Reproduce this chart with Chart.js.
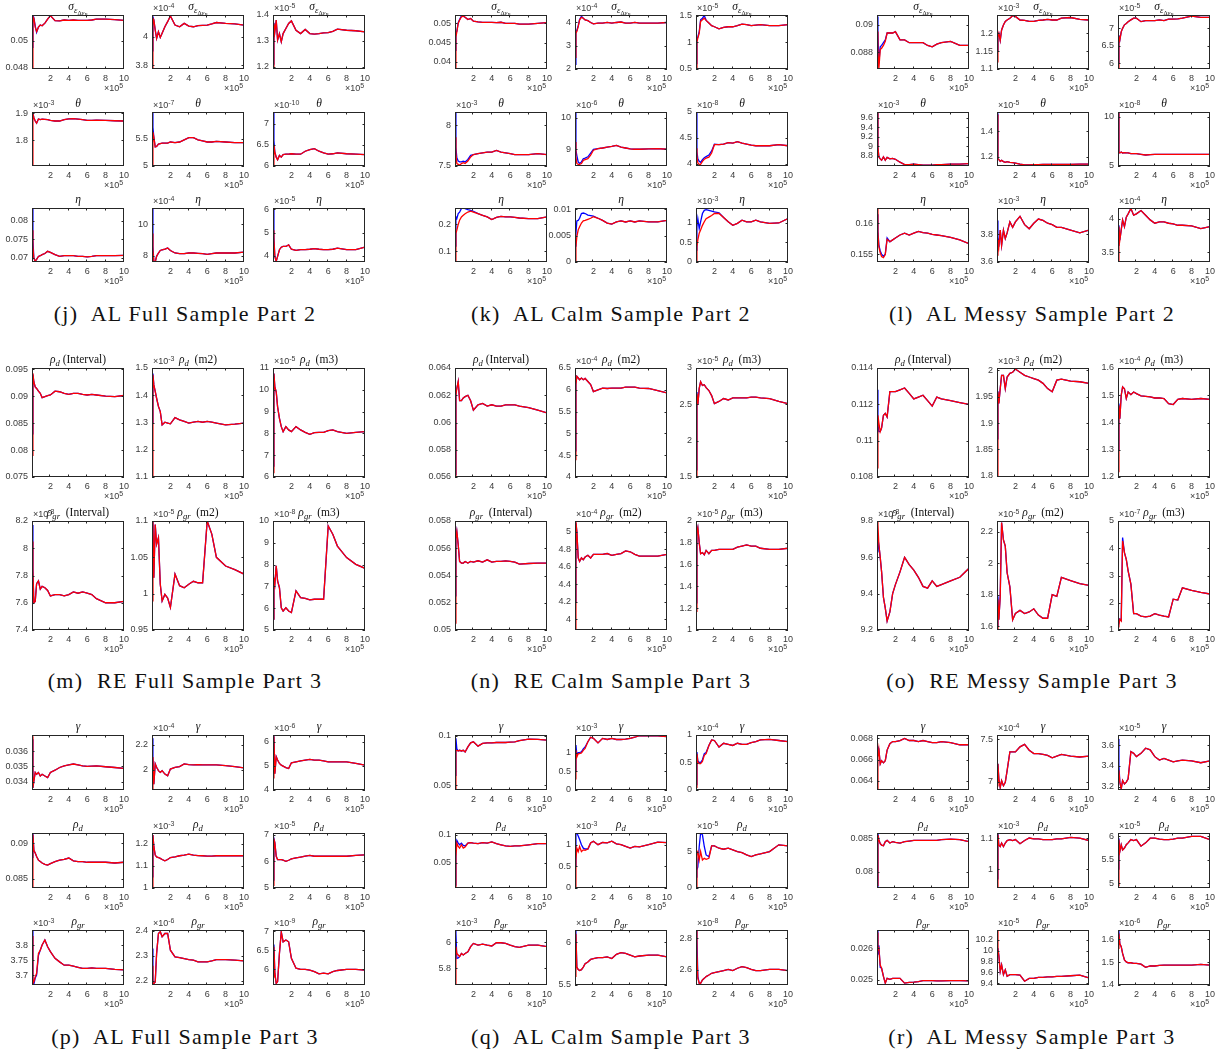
<!DOCTYPE html>
<html>
<head>
<meta charset="utf-8">
<script src="https://cdn.jsdelivr.net/npm/chart.js@4.4.0/dist/chart.umd.min.js"></script>
<style>
body{margin:0;background:#fff;width:1225px;height:1055px;position:relative;overflow:hidden}
canvas{position:absolute}
.ttl{position:absolute;width:140px;text-align:center;font-family:"Liberation Serif",serif;font-size:11.5px;line-height:12px;color:#111;white-space:nowrap}
.ttl sub{font-size:75%;vertical-align:-0.3em;line-height:0}
.ex{position:absolute;font-family:"Liberation Sans",Arial,sans-serif;font-size:9px;line-height:10px;color:#3a3a3a;white-space:nowrap}
.ex sup{font-size:7px;vertical-align:0.45em;line-height:0}
.cap{position:absolute;width:500px;text-align:center;font-family:"Liberation Serif",serif;font-size:22px;line-height:24px;letter-spacing:1.3px;color:#111;white-space:pre}
</style>
</head>
<body>
<script>
// iteration axis, in units of 10^5
var iterX = [0.01,0.1,0.2,0.35,0.5,0.7,0.9,1.1,1.4,1.7,2,2.5,3,3.5,4,4.5,5,5.5,6,6.5,7,8,9,10];
var xTicks = [2,4,6,8,10];

// (j) AL Full Sample Part 2
var jExp = [null,-4,-5,-3,-7,-10,null,-4,-5];
var jRange = [[0.0479,0.0519],[3.772,4.153],[1.191,1.4],[1.706,1.904],[5,5.99],[6,7.28],[0.0689,0.0835],[7.6,11.02],[3.73,6.06]];
var jTicks = [[0.048,0.05],[3.8,4],[1.2,1.3,1.4],[1.8,1.9],[5,5.5],[6,6.5,7],[0.07,0.075,0.08],[8,10],[4,5,6]];
var jRed = [
 [0.048,0.05178,0.05165,0.051,0.05067,0.051,0.05116,0.0511,0.0513,0.0516,0.05185,0.05148,0.05146,0.05153,0.0515,0.05153,0.0515,0.0515,0.0515,0.05153,0.0516,0.0516,0.05156,0.0515],
 [3.78,4.13,4.118,4.047,3.988,4.035,3.995,4.024,4.07,4.106,4.146,4.082,4.07,4.094,4.075,4.07,4.078,4.08,4.082,4.09,4.1,4.094,4.09,4.082],
 [1.195,1.367,1.335,1.38,1.303,1.328,1.296,1.328,1.348,1.367,1.377,1.341,1.328,1.344,1.328,1.326,1.328,1.331,1.332,1.337,1.345,1.341,1.339,1.335],
 [1.71,1.898,1.883,1.871,1.863,1.878,1.876,1.878,1.877,1.876,1.873,1.871,1.871,1.876,1.879,1.88,1.878,1.876,1.873,1.873,1.874,1.873,1.872,1.871],
 [5.02,5.62,5.53,5.35,5.36,5.4,5.41,5.42,5.42,5.42,5.44,5.43,5.44,5.48,5.52,5.52,5.48,5.46,5.44,5.44,5.45,5.44,5.43,5.43],
 [6.02,6.49,6.33,6.21,6.15,6.25,6.21,6.27,6.28,6.28,6.29,6.28,6.28,6.35,6.39,6.41,6.35,6.31,6.28,6.29,6.31,6.29,6.28,6.27],
 [0.0775,0.0731,0.07,0.0691,0.0696,0.0704,0.0706,0.0709,0.0712,0.0718,0.0715,0.0709,0.0704,0.0706,0.0706,0.0706,0.0704,0.0704,0.0703,0.0704,0.0706,0.0706,0.0706,0.0707],
 [9.4,8.375,7.65,7.6,7.96,8.17,8.33,8.375,8.42,8.48,8.33,8.17,8.125,8.125,8.17,8.17,8.15,8.125,8.08,8.125,8.17,8.17,8.17,8.23],
 [5.1,4.68,3.97,3.76,3.97,4.26,4.37,4.4,4.4,4.47,4.28,4.23,4.26,4.26,4.28,4.31,4.28,4.26,4.26,4.28,4.33,4.26,4.26,4.37]
];
// blue trace where it separates from red (afterwards it lies under the red one)
var jBlue = [[0.0495,0.0519,0.0517,0.0511,0.05062],[3.9,4.14],[1.21,1.37],[1.88,1.9],[5.98,5.71],[7.27,6.6],[0.0835,0.0749],[11,8.6],[6,4.8]];

// (k) AL Calm Sample Part 2
var kExp = [null,-4,-5,-3,-6,-8,null,null,-3];
var kRange = [[0.0381,0.0522],[2,4.31],[0.5,1.51],[7.5,8.16],[8.47,10.18],[3.96,5],[0.061,0.261],[0,0.01025],[0,1.37]];
var kTicks = [[0.04,0.045,0.05],[2,3,4],[0.5,1,1.5],[7.5,8],[9,10],[4,4.5,5],[0.1,0.2],[0,0.005,0.01],[0,0.5,1]];
var kRed = [
 [0.0385,0.0465,0.0478,0.05,0.0509,0.0517,0.0519,0.0516,0.051,0.0513,0.0506,0.0504,0.0503,0.0503,0.0503,0.0502,0.0503,0.05,0.05,0.05,0.0498,0.0498,0.05,0.0502],
 [2.5,3.53,3.6,3.81,4.1,4.21,4.17,4.1,4.07,3.99,3.93,3.96,3.96,3.99,3.96,3.99,4.01,3.96,3.96,3.99,3.96,3.96,3.96,3.99],
 [0.5,1.01,1.08,1.17,1.39,1.42,1.45,1.41,1.36,1.31,1.29,1.25,1.28,1.29,1.29,1.31,1.34,1.33,1.31,1.32,1.33,1.31,1.31,1.33],
 [7.85,7.65,7.53,7.52,7.51,7.53,7.54,7.53,7.56,7.61,7.64,7.65,7.66,7.67,7.67,7.69,7.67,7.66,7.65,7.64,7.64,7.64,7.65,7.64],
 [9.23,8.76,8.55,8.52,8.52,8.55,8.65,8.67,8.7,8.81,8.97,9.02,9.04,9.07,9.09,9.12,9.07,9.04,9.01,9,9,9.01,9.02,9],
 [4.3,4.15,4.02,3.99,3.99,4.05,4.09,4.11,4.13,4.21,4.37,4.37,4.38,4.41,4.4,4.43,4.4,4.38,4.36,4.35,4.35,4.35,4.37,4.35],
 [0.061,0.167,0.179,0.2,0.216,0.228,0.234,0.24,0.246,0.249,0.246,0.24,0.234,0.228,0.218,0.226,0.23,0.228,0.228,0.226,0.224,0.222,0.222,0.228],
 [0,0.0029,0.0048,0.0061,0.0067,0.0074,0.0078,0.0079,0.0081,0.0083,0.0086,0.0083,0.0079,0.0074,0.0072,0.0076,0.0078,0.0076,0.0078,0.0076,0.0078,0.0076,0.0076,0.0079],
 [0,0.39,0.56,0.73,0.81,0.93,1.02,1.1,1.14,1.18,1.23,1.23,1.13,1.02,0.93,0.98,1.06,1.02,1.02,1.06,1.02,0.98,0.99,1.1]
];
var kBlue = [
 [0.043,0.0474,0.048,0.0502,0.051,0.052],
 [2.2,3.6,3.65,3.85,4.12,4.25],
 [0.6,1.05,1.1,1.2,1.42,1.45,1.5],
 [8.16,7.73,7.6,7.56,7.55,7.55,7.56,7.55,7.58,7.63],
 [10.18,8.97,8.8,8.6,8.55,8.6,8.7,8.72,8.76,8.88,9],
 [5,4.24,4.1,4.05,4.03,4.08,4.12,4.14,4.17,4.25,4.38],
 [0.12,0.228,0.222,0.24,0.246,0.259,0.261,0.259,0.255,0.252,0.249],
 [0.003,0.0054,0.0078,0.0079,0.0083,0.0092,0.0093,0.0092,0.0089,0.0088,0.0087],
 [0.3,0.89,1.1,0.85,1.02,1.23,1.31,1.33,1.31,1.29,1.27,1.25]
];

// (l) AL Messy Sample Part 2
var lExp = [null,-3,-5,-3,-5,-8,null,-3,-4];
var lRange = [[0.0868,0.0907],[1.1,1.251],[5.84,7.38],[8.59,9.72],[1.13,1.55],[5,10.5],[0.1537,0.1625],[3.6,3.99],[3.353,4.157]];
var lTicks = [[0.088,0.09],[1.1,1.15,1.2],[6,6.5,7],[8.8,9,9.2,9.4,9.6],[1.2,1.4],[5,10],[0.155,0.16],[3.6,3.8],[3.5,4]];
var lRed = [
 [0.0895,0.0882,0.0868,0.0882,0.0883,0.0885,0.0888,0.0894,0.0894,0.0894,0.0895,0.0889,0.0889,0.0887,0.0887,0.0887,0.0887,0.0885,0.0884,0.0886,0.0887,0.0888,0.0885,0.0885],
 [1.12,1.19,1.2,1.18,1.209,1.223,1.233,1.237,1.242,1.249,1.247,1.237,1.236,1.233,1.233,1.236,1.237,1.239,1.237,1.237,1.242,1.244,1.239,1.237],
 [5.84,6.76,6.67,6.9,7,7.1,7.14,7.19,7.24,7.29,7.29,7.19,7.22,7.22,7.22,7.24,7.22,7.26,7.26,7.27,7.29,7.35,7.31,7.31],
 [9.7,8.99,8.78,8.74,8.71,8.78,8.71,8.77,8.74,8.75,8.73,8.67,8.62,8.62,8.63,8.62,8.61,8.61,8.61,8.62,8.62,8.63,8.63,8.64],
 [1.53,1.187,1.18,1.166,1.174,1.164,1.158,1.164,1.158,1.156,1.153,1.145,1.138,1.138,1.14,1.14,1.143,1.143,1.143,1.143,1.143,1.143,1.145,1.145],
 [10.4,6.43,6.33,6.43,6.33,6.36,6.33,6.33,6.26,6.26,6.26,6.19,6.12,6.16,6.19,6.19,6.19,6.19,6.19,6.19,6.19,6.19,6.19,6.19],
 [0.1625,0.1584,0.1562,0.1552,0.1546,0.1544,0.1549,0.1574,0.157,0.1573,0.1576,0.1581,0.1584,0.1581,0.1584,0.1587,0.1585,0.1584,0.1582,0.1581,0.158,0.1577,0.1573,0.1567],
 [3.65,3.76,3.71,3.83,3.72,3.83,3.77,3.81,3.89,3.85,3.89,3.93,3.87,3.84,3.88,3.91,3.9,3.88,3.87,3.85,3.85,3.83,3.81,3.83],
 [3.36,3.88,3.68,3.83,3.98,3.88,4.02,4.07,4.15,4.05,4.07,4.12,4.05,3.98,3.93,3.95,3.95,3.93,3.92,3.9,3.9,3.89,3.85,3.88]
];
var lBlue = [[0.0906,0.0895,0.0872,0.0884,0.0885,0.0887,0.0889],[1.15,1.195],[6,6.8],[9.7],[1.54],[10.5],[0.1615,0.1588,0.1565,0.1555,0.155,0.1546,0.155,0.1576],[3.9,3.78],[3.6,3.9]];

// (m) RE Full Sample Part 3
var mExp = [null,-3,-5,-3,-5,-8];
var mRange = [[0.075,0.0952],[1.1,1.5],[6,11],[7.4,8.2],[0.95,1.1],[5,10]];
var mTicks = [[0.075,0.08,0.085,0.09,0.095],[1.1,1.2,1.3,1.4,1.5],[6,7,8,9,10,11],[7.4,7.6,7.8,8,8.2],[0.95,1,1.05,1.1],[5,6,7,8,9,10]];
var mRed = [
 [0.079,0.0942,0.0926,0.0917,0.0914,0.0909,0.0905,0.0897,0.0899,0.0901,0.0902,0.0909,0.0908,0.0905,0.0903,0.0905,0.0905,0.0903,0.0902,0.0903,0.0902,0.09,0.0899,0.0901],
 [1.1,1.475,1.438,1.414,1.389,1.359,1.34,1.291,1.301,1.298,1.295,1.318,1.31,1.304,1.298,1.301,1.304,1.301,1.304,1.301,1.298,1.291,1.294,1.298],
 [6.2,10.74,10.13,9.9,9.22,8.69,8.31,8.08,8.31,8.16,8.08,8.31,8.16,8.05,7.96,8.04,8.05,8.05,8.13,8.16,8.08,8,8.05,8.08],
 [8.05,7.83,7.6,7.61,7.74,7.76,7.7,7.72,7.71,7.69,7.65,7.66,7.66,7.65,7.66,7.68,7.67,7.68,7.67,7.66,7.63,7.6,7.6,7.61],
 [0.99,1.1,1.022,1.095,1.068,1.077,1.013,0.99,0.999,0.994,0.981,1.027,1.011,1.008,1.013,1.017,1.015,1.015,1.1,1.082,1.05,1.038,1.033,1.027],
 [5.5,7.4,7.1,7.94,7.25,6.94,6.02,5.87,6.02,5.87,5.8,6.79,6.48,6.45,6.38,6.41,6.41,6.41,9.77,9.39,8.85,8.32,8.01,7.83]
];
var mBlue = [[0.083,0.094],[1.3,1.48],[6.5,10.75],[8.17,7.85],[1.07],[5.5,7.35]];

// (n) RE Calm Sample Part 3
var nExp = [null,-4,-5,null,-4,-5];
var nRange = [[0.056,0.064],[4,6.5],[1.5,3],[0.05,0.058],[3.88,5.12],[1,2]];
var nTicks = [[0.056,0.058,0.06,0.062,0.064],[4,4.5,5,5.5,6,6.5],[1.5,2,2.5,3],[0.05,0.052,0.054,0.056,0.058],[4,4.2,4.4,4.6,4.8,5],[1,1.2,1.4,1.6,1.8,2]];
var nRed = [
 [0.0561,0.062,0.0625,0.063,0.0616,0.0616,0.0618,0.0619,0.062,0.0616,0.0609,0.0613,0.0614,0.0612,0.0613,0.0612,0.0612,0.0613,0.0613,0.0613,0.0612,0.0611,0.0609,0.0607],
 [4.4,6.12,6.31,6.27,6.23,6.27,6.23,6.26,6.19,6.12,5.96,6,6.04,6.03,6.04,6.04,6.04,6.06,6.06,6.06,6.04,6.03,5.98,5.93],
 [1.5,2.65,2.49,2.72,2.81,2.76,2.77,2.73,2.69,2.62,2.51,2.54,2.58,2.56,2.59,2.59,2.59,2.59,2.6,2.6,2.59,2.58,2.54,2.51],
 [0.0505,0.05675,0.05724,0.05626,0.05503,0.05491,0.05491,0.05503,0.05491,0.05503,0.05498,0.05508,0.05498,0.05515,0.05498,0.05503,0.05503,0.05508,0.05503,0.05498,0.05483,0.05488,0.05491,0.05491],
 [3.88,5.11,5,4.7,4.66,4.7,4.68,4.71,4.73,4.7,4.74,4.74,4.74,4.75,4.73,4.74,4.75,4.78,4.77,4.74,4.72,4.72,4.72,4.74],
 [1.17,1.9,1.94,1.8,1.7,1.71,1.69,1.73,1.7,1.73,1.73,1.74,1.74,1.74,1.74,1.76,1.77,1.78,1.77,1.77,1.75,1.74,1.74,1.75]
];
var nBlue = [[0.0562,0.0622],[4.6,6.15],[1.6,2.67],[0.0525,0.0567],[4.2,5.1],[1.25,1.9]];

// (o) RE Messy Sample Part 3
var oExp = [null,-3,-4,-3,-5,-7];
var oRange = [[0.108,0.114],[1.798,2.004],[1.2,1.6],[9.2,9.8],[1.575,2.27],[1,5]];
var oTicks = [[0.108,0.11,0.112,0.114],[1.8,1.85,1.9,1.95,2],[1.2,1.3,1.4,1.5,1.6],[9.2,9.4,9.6,9.8],[1.6,1.8,2,2.2],[1,2,3,4,5]];
var oRed = [
 [0.1085,0.1114,0.111,0.1105,0.1107,0.1114,0.1115,0.1113,0.1127,0.1127,0.1127,0.1128,0.1129,0.1126,0.1123,0.1124,0.1125,0.1122,0.1119,0.1124,0.1123,0.1122,0.1121,0.112],
 [1.8,1.959,1.937,1.965,1.99,1.99,1.965,1.987,1.994,1.996,2.002,1.996,1.99,1.987,1.984,1.981,1.975,1.965,1.959,1.981,1.983,1.979,1.978,1.975],
 [1.22,1.463,1.414,1.5,1.531,1.524,1.488,1.512,1.502,1.512,1.506,1.498,1.496,1.494,1.49,1.49,1.488,1.469,1.466,1.485,1.488,1.485,1.488,1.485],
 [9.8,9.78,9.67,9.6,9.52,9.38,9.32,9.25,9.3,9.4,9.45,9.52,9.6,9.56,9.53,9.49,9.44,9.43,9.47,9.44,9.45,9.47,9.49,9.54],
 [1.58,1.77,1.64,1.79,2.26,2.15,2.11,1.94,1.85,1.64,1.68,1.7,1.68,1.69,1.71,1.67,1.65,1.65,1.8,1.79,1.91,1.89,1.87,1.86],
 [1.3,1.21,1.39,1.33,4.27,3.84,3.59,3.17,2.68,1.6,1.6,1.51,1.48,1.51,1.6,1.55,1.51,1.48,2.13,2.1,2.55,2.45,2.38,2.32]
];
var oBlue = [[0.1128,0.1109,0.1105],[1.87,1.96],[1.3,1.47],[9.63,9.7],[1.6,1.79],[1.4,1.25,1.4,1.35,4.39]];

// (p) AL Full Sample Part 3
var pExp = [null,-4,-6,null,-3,-5,-3,-6,-9];
var pRange = [[0.03344,0.03708],[1.838,2.276],[4,6.28],[0.08367,0.09143],[1,1.249],[5,7.06],[3.667,3.85],[2.183,2.404],[5.59,7.03]];
var pTicks = [[0.034,0.035,0.036],[2,2.2],[4,5,6],[0.085,0.09],[1,1.1,1.2],[5,6,7],[3.7,3.75,3.8],[2.2,2.3,2.4],[6,6.5,7]];
var pRed = [
 [0.037,0.03358,0.03403,0.0346,0.03448,0.0346,0.03437,0.03448,0.03437,0.03426,0.0346,0.03475,0.03493,0.03504,0.03511,0.03516,0.03511,0.03504,0.035,0.03502,0.03504,0.03498,0.03493,0.03487],
 [1.84,2.1,1.884,2.046,2.019,1.992,1.978,1.992,1.965,1.951,2.005,2.019,2.024,2.046,2.04,2.038,2.04,2.038,2.038,2.038,2.038,2.032,2.024,2.014],
 [4.5,6.23,4.68,5.38,5.24,5.1,5.03,4.99,4.93,4.89,5.13,5.17,5.21,5.24,5.27,5.24,5.24,5.21,5.17,5.17,5.17,5.17,5.1,5.03],
 [0.0837,0.0912,0.089,0.0886,0.0881,0.0876,0.0874,0.0872,0.087,0.0869,0.0871,0.0874,0.0876,0.0877,0.0879,0.0875,0.0874,0.0874,0.0873,0.0873,0.0873,0.0873,0.0872,0.0873],
 [1,1.24,1.187,1.149,1.141,1.138,1.134,1.129,1.123,1.129,1.138,1.141,1.146,1.149,1.153,1.149,1.147,1.146,1.144,1.144,1.146,1.146,1.146,1.146],
 [5.1,6.82,6.7,6.19,6.06,6.06,6.06,6.04,6,6.04,6.09,6.13,6.16,6.19,6.22,6.19,6.19,6.19,6.19,6.19,6.19,6.19,6.22,6.24],
 [3.83,3.672,3.678,3.694,3.706,3.772,3.783,3.8,3.817,3.794,3.778,3.756,3.744,3.733,3.733,3.73,3.726,3.722,3.722,3.724,3.722,3.722,3.719,3.717],
 [2.26,2.189,2.189,2.195,2.309,2.39,2.397,2.377,2.39,2.39,2.323,2.296,2.293,2.289,2.285,2.283,2.276,2.276,2.276,2.28,2.285,2.285,2.283,2.28],
 [5.8,6.59,5.9,5.63,5.68,6.42,6.98,6.72,6.77,6.72,6.29,6.03,6,6,5.98,5.94,5.88,5.9,5.88,5.94,5.97,6,6,5.98]
];
var pBlue = [[0.0368],[2.25,2.1],[6.25],[0.088,0.0914],[1.05],[5.3,6.85],[3.85,3.667,3.67,3.69,3.7,3.765],[2.33,2.19],[6.6,6.65]];

// (q) AL Calm Sample Part 3
var qExp = [null,-3,-4,null,-3,-5,-3,-6,-8];
var qRange = [[0.0452,0.101],[0,1.47],[0,1],[0.005,0.103],[0,1.27],[0,7.55],[5.672,6.095],[5.5,6.145],[2.505,2.853]];
var qTicks = [[0.05,0.1],[0,0.5,1],[0,0.5,1],[0.05,0.1],[0,0.5,1],[0,5],[5.8,6],[5.5,6],[2.6,2.8]];
var qRed = [
 [0.0452,0.0855,0.0855,0.0848,0.0855,0.0848,0.0855,0.0838,0.089,0.0931,0.0941,0.0897,0.0924,0.0931,0.0931,0.0934,0.0934,0.0934,0.0938,0.0941,0.0952,0.0969,0.0966,0.0959],
 [0.3,1.06,0.88,0.97,0.97,0.99,1.06,1.11,1.29,1.41,1.38,1.26,1.38,1.35,1.38,1.35,1.35,1.36,1.38,1.41,1.45,1.45,1.45,1.43],
 [0.05,0.66,0.51,0.48,0.48,0.52,0.63,0.66,0.81,0.91,0.9,0.78,0.85,0.83,0.81,0.85,0.83,0.83,0.86,0.88,0.91,0.92,0.9,0.88],
 [0.005,0.061,0.085,0.079,0.076,0.082,0.076,0.078,0.085,0.086,0.085,0.084,0.086,0.085,0.087,0.084,0.082,0.08,0.079,0.08,0.08,0.082,0.084,0.084],
 [0,0.65,0.92,0.84,0.96,0.84,0.88,0.87,0.9,1.04,1.08,1,1.05,1.04,1.08,1.02,1,0.96,0.92,0.96,0.95,1,1.06,1.05],
 [0,4.77,5,3.84,5,3.84,4.07,3.94,4.07,5.79,5.79,5.46,5.32,5.46,5.23,5,4.86,4.54,4.3,4.54,4.68,5,5.93,5.79],
 [5.67,5.967,5.915,5.903,5.89,5.915,5.903,5.915,5.928,5.967,5.992,5.979,5.987,5.979,5.972,5.997,5.997,5.992,5.979,5.967,5.962,5.979,5.979,5.967],
 [5.6,6.1,5.71,5.68,5.67,5.68,5.71,5.75,5.77,5.8,5.81,5.82,5.82,5.83,5.81,5.86,5.88,5.87,5.85,5.83,5.84,5.85,5.85,5.83],
 [2.85,2.705,2.547,2.516,2.516,2.537,2.547,2.558,2.568,2.579,2.583,2.589,2.596,2.604,2.596,2.611,2.621,2.615,2.604,2.596,2.596,2.604,2.604,2.596]
];
var qBlue = [
 [0.06,0.0976,0.087],
 [0.5,1.2,0.95,1,1,1.02,1.1,1.15],
 [0.1,0.69,0.53,0.5,0.5,0.55,0.66,0.68],
 [0.01,0.079,0.09,0.085,0.082,0.085,0.081,0.08],
 [0.5,1.27,1.27,1.2,1.12,1,0.92,0.9],
 [1.5,2.45,2.9,5.7,7.55,7.3,5.7,4.54,4.3],
 [6.09,6.07,5.877,5.88],
 [6.14,6.1],
 [2.85,2.8,2.56]
];

// (r) AL Messy Sample Part 3
var rExp = [null,-4,-5,null,-3,-5,null,-5,-6];
var rRange = [[0.06314,0.06832],[6.9,7.55],[3.167,3.698],[0.0776,0.0858],[0.941,1.116],[4.9,6.07],[0.02484,0.02658],[9.37,10.38],[1.4,1.64]];
var rTicks = [[0.064,0.066,0.068],[7,7.5],[3.2,3.4,3.6],[0.08,0.085],[1,1.1],[5,5.5,6],[0.025,0.026],[9.4,9.6,9.8,10,10.2],[1.4,1.5,1.6]];
var rRed = [
 [0.0632,0.0662,0.067,0.0656,0.0659,0.0657,0.0659,0.0669,0.0675,0.0677,0.0677,0.0678,0.068,0.0678,0.0678,0.0677,0.0678,0.0677,0.0676,0.0676,0.0677,0.0676,0.0674,0.0674],
 [6.95,7.21,7.03,6.93,7.01,6.95,6.99,7.13,7.35,7.35,7.35,7.41,7.44,7.37,7.33,7.33,7.32,7.31,7.28,7.3,7.32,7.3,7.29,7.3],
 [3.35,3.357,3.243,3.177,3.259,3.226,3.243,3.275,3.538,3.521,3.489,3.521,3.57,3.554,3.489,3.456,3.472,3.456,3.439,3.449,3.456,3.449,3.43,3.449],
 [0.078,0.0855,0.0848,0.0842,0.084,0.0839,0.0845,0.0847,0.0843,0.0845,0.0844,0.0843,0.0845,0.0846,0.0847,0.0847,0.0847,0.0847,0.0847,0.0847,0.0848,0.0849,0.0848,0.0845],
 [0.945,1.111,1.078,1.073,1.084,1.073,1.084,1.092,1.095,1.092,1.095,1.082,1.092,1.1,1.097,1.097,1.095,1.095,1.095,1.097,1.097,1.102,1.1,1.092],
 [4.95,5.93,5.68,5.82,5.71,5.75,5.82,5.86,5.93,5.91,5.93,5.79,5.86,5.96,5.96,5.94,5.93,5.93,5.94,5.96,5.96,6,6,5.93],
 [0.0265,0.02595,0.026,0.02547,0.02537,0.02511,0.0249,0.02505,0.02502,0.02505,0.02505,0.02505,0.0249,0.02492,0.02493,0.02495,0.02498,0.02498,0.02498,0.02497,0.02497,0.02498,0.02498,0.02497],
 [10.38,10.03,9.91,9.62,9.74,9.56,9.65,9.53,9.56,9.56,9.56,9.55,9.44,9.49,9.49,9.51,9.51,9.52,9.52,9.53,9.53,9.54,9.55,9.5],
 [1.56,1.625,1.58,1.567,1.538,1.509,1.501,1.497,1.497,1.494,1.494,1.491,1.477,1.483,1.483,1.486,1.487,1.487,1.487,1.487,1.487,1.487,1.49,1.487]
];
var rBlue = [[0.0665,0.0672],[7.15],[3.66,3.4],[0.0776,0.0857],[0.97,1.115],[5.3,5.96],[0.0266,0.0258,0.0261,0.0254],[10,10.05],[1.64,1.63]];

// subplot titles
var SYM = {
  sig: '<i>σ</i><sub><i>ε</i><sub>Δ<i>v</i><sub>B</sub></sub></sub>',
  th: '<i>θ</i>', eta: '<i>η</i>', gam: '<i>γ</i>',
  rd: '<i>ρ</i><sub><i>d</i></sub>', rgr: '<i>ρ</i><sub><i>gr</i></sub>'
};
var titlesPart2 = ['sig','sig','sig','th','th','th','eta','eta','eta'].map(function(k){ return SYM[k]; });
var titlesRE = [SYM.rd+' (Interval)', SYM.rd+' &nbsp;(m2)', SYM.rd+' &nbsp;(m3)', SYM.rgr+' &nbsp;(Interval)', SYM.rgr+' &nbsp;(m2)', SYM.rgr+' &nbsp;(m3)'];
var titlesPart3 = ['gam','gam','gam','rd','rd','rd','rgr','rgr','rgr'].map(function(k){ return SYM[k]; });

// layout of the figure
var panelX = [32, 455, 877];
var subColX = [0, 120, 241];
var rowTops = [[15,112,208],[368,521],[735,833,930]];
var boxH = [54, 109, 55];
var BOX_W = 92;
var capY = [302, 669, 1025];
var capX = [185, 611, 1032];

var panels = [
  {g:0,c:0,cap:'(j)  AL Full Sample Part 2',titles:titlesPart2,exp:jExp,range:jRange,ticks:jTicks,red:jRed,blue:jBlue},
  {g:0,c:1,cap:'(k)  AL Calm Sample Part 2',titles:titlesPart2,exp:kExp,range:kRange,ticks:kTicks,red:kRed,blue:kBlue},
  {g:0,c:2,cap:'(l)  AL Messy Sample Part 2',titles:titlesPart2,exp:lExp,range:lRange,ticks:lTicks,red:lRed,blue:lBlue},
  {g:1,c:0,cap:'(m)  RE Full Sample Part 3',titles:titlesRE,exp:mExp,range:mRange,ticks:mTicks,red:mRed,blue:mBlue},
  {g:1,c:1,cap:'(n)  RE Calm Sample Part 3',titles:titlesRE,exp:nExp,range:nRange,ticks:nTicks,red:nRed,blue:nBlue},
  {g:1,c:2,cap:'(o)  RE Messy Sample Part 3',titles:titlesRE,exp:oExp,range:oRange,ticks:oTicks,red:oRed,blue:oBlue},
  {g:2,c:0,cap:'(p)  AL Full Sample Part 3',titles:titlesPart3,exp:pExp,range:pRange,ticks:pTicks,red:pRed,blue:pBlue},
  {g:2,c:1,cap:'(q)  AL Calm Sample Part 3',titles:titlesPart3,exp:qExp,range:qRange,ticks:qTicks,red:qRed,blue:qBlue},
  {g:2,c:2,cap:'(r)  AL Messy Sample Part 3',titles:titlesPart3,exp:rExp,range:rRange,ticks:rTicks,red:rRed,blue:rBlue}
];

var tickFont = {family: '"Liberation Sans", Arial, sans-serif', size: 9};
var tickColor = '#3a3a3a';

// matlab style box with inward ticks on all four sides
var boxPlugin = {
  id: 'mbox',
  afterDraw: function(chart) {
    var ctx = chart.ctx, a = chart.chartArea, sx = chart.scales.x, sy = chart.scales.y;
    ctx.save();
    ctx.strokeStyle = '#262626';
    ctx.lineWidth = 1;
    ctx.strokeRect(a.left + 0.5, a.top + 0.5, a.right - a.left - 1, a.bottom - a.top - 1);
    ctx.beginPath();
    sx.ticks.forEach(function(t) {
      var px = Math.round(sx.getPixelForValue(t.value)) - 0.5;
      ctx.moveTo(px, a.bottom); ctx.lineTo(px, a.bottom - 2.5);
      ctx.moveTo(px, a.top); ctx.lineTo(px, a.top + 2.5);
    });
    sy.ticks.forEach(function(t) {
      var py = Math.round(sy.getPixelForValue(t.value)) + 0.5;
      ctx.moveTo(a.left, py); ctx.lineTo(a.left + 2.5, py);
      ctx.moveTo(a.right, py); ctx.lineTo(a.right - 2.5, py);
    });
    ctx.stroke();
    ctx.restore();
  }
};

function addDiv(cls, html, left, top) {
  var d = document.createElement('div');
  d.className = cls;
  d.innerHTML = html;
  d.style.left = left + 'px';
  d.style.top = top + 'px';
  document.body.appendChild(d);
  return d;
}

function pts(ys) {
  return ys.map(function(v, i) { return {x: iterX[i], y: v}; });
}

function makePlot(bx, by, bh, red, blueLead, range, yt) {
  var PADL = 32, PADT = 8, PADR = 10, PADB = 16;
  var cv = document.createElement('canvas');
  var W = BOX_W + PADL + PADR, H = bh + PADT + PADB;
  cv.width = W; cv.height = H;
  cv.style.width = W + 'px'; cv.style.height = H + 'px';
  cv.style.left = (bx - PADL) + 'px';
  cv.style.top = (by - PADT) + 'px';
  document.body.appendChild(cv);
  var blue = blueLead.concat(red.slice(blueLead.length));
  var chart = new Chart(cv, {
    type: 'line',
    data: {
      datasets: [
        {data: pts(red), borderColor: '#ff0000', borderWidth: 1.3, pointRadius: 0, tension: 0, fill: false},
        {data: pts(blue), borderColor: '#0000ff', borderWidth: 1.3, pointRadius: 0, tension: 0, fill: false}
      ]
    },
    options: {
      responsive: false, animation: false, devicePixelRatio: 1, events: [],
      layout: {padding: {left: 0, top: PADT, right: PADR, bottom: 0}},
      plugins: {legend: {display: false}, tooltip: {enabled: false}},
      scales: {
        x: {
          type: 'linear', min: 0, max: 10,
          grid: {display: false, drawTicks: false}, border: {display: false},
          ticks: {font: tickFont, color: tickColor, padding: 4, maxRotation: 0, autoSkip: false},
          afterBuildTicks: function(s) { s.ticks = xTicks.map(function(v) { return {value: v}; }); },
          afterFit: function(s) { s.height = PADB; s.paddingLeft = 0; s.paddingRight = 0; }
        },
        y: {
          type: 'linear', min: range[0], max: range[1],
          grid: {display: false, drawTicks: false}, border: {display: false},
          ticks: {font: tickFont, color: tickColor, padding: 4, autoSkip: false,
                  callback: function(v) { return String(v); }},
          afterBuildTicks: function(s) { s.ticks = yt.map(function(v) { return {value: v}; }); },
          afterFit: function(s) { s.width = PADL; s.paddingTop = 0; s.paddingBottom = 0; }
        }
      }
    },
    plugins: [boxPlugin]
  });
  var a = chart.chartArea;
  cv.style.left = (bx - a.left) + 'px';
  cv.style.top = (by - a.top) + 'px';
}

panels.forEach(function(p) {
  var tops = rowTops[p.g], bh = boxH[p.g];
  p.red.forEach(function(red, i) {
    var row = Math.floor(i / 3), col = i % 3;
    var bx = panelX[p.c] + subColX[col], by = tops[row];
    makePlot(bx, by, bh, red, p.blue[i], p.range[i], p.ticks[i]);
    addDiv('ttl', p.titles[i], bx + BOX_W / 2 - 70, by - 15);
    if (p.exp[i] !== null) addDiv('ex', '×10<sup>' + p.exp[i] + '</sup>', bx + 1, by - 12);
    var e5 = addDiv('ex', '×10<sup>5</sup>', 0, by + bh + 14);
    e5.style.left = (bx + BOX_W - 1 - e5.offsetWidth) + 'px';
  });
  addDiv('cap', p.cap, capX[p.c] - 250, capY[p.g]);
});
</script>
</body>
</html>
